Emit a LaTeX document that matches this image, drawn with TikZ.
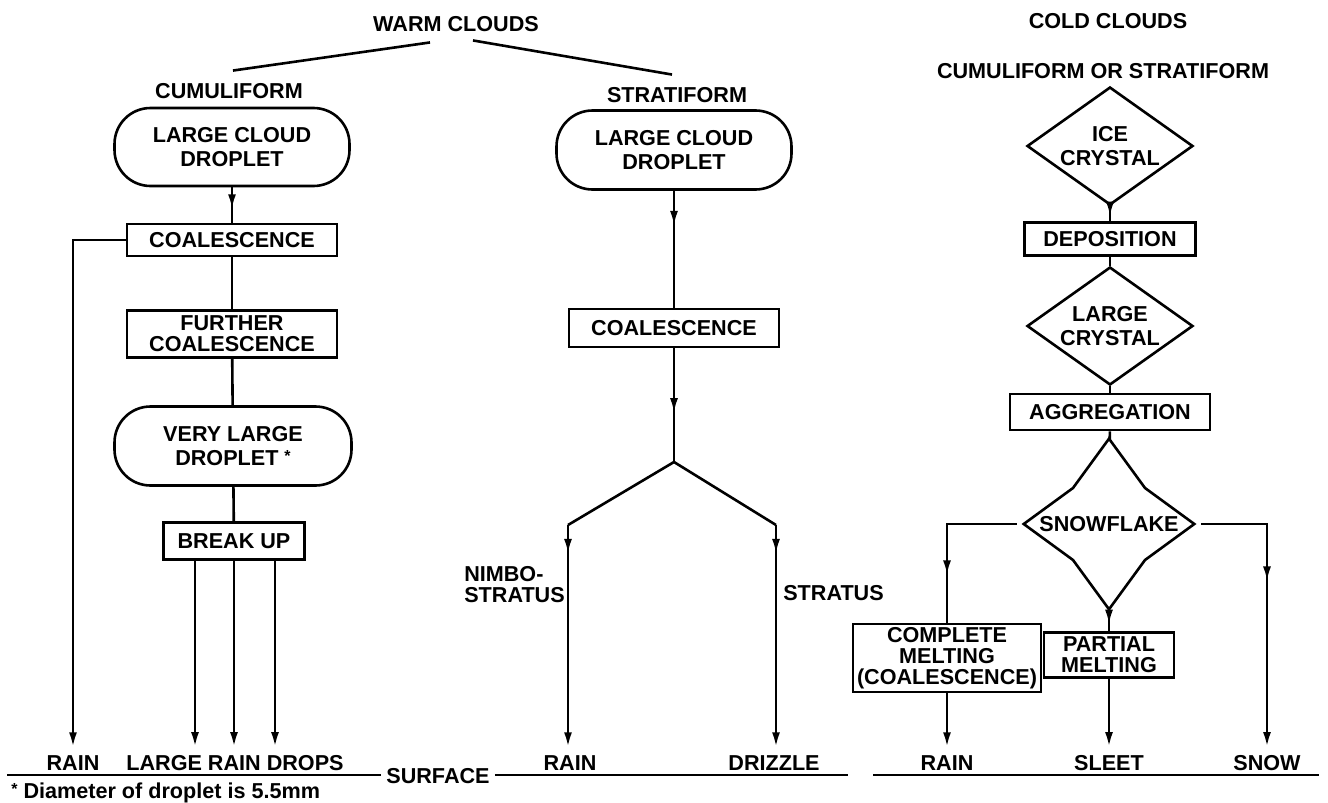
\documentclass[tikz,border=0pt]{standalone}
\usepackage{fontspec}
\setmainfont{Liberation Sans}
\usetikzlibrary{arrows.meta,decorations.markings,shapes.geometric,calc}
\tikzset{
  every node/.style={font=\bfseries\fontsize{10.8}{10.5}\selectfont, align=center, inner sep=0pt},
  box/.style={draw, rectangle},
  pill/.style={draw, rectangle, rounded corners=18pt, font=\bfseries\fontsize{10.8}{12.2}\selectfont},
  diam/.style={draw, diamond},
  dtext/.style={font=\bfseries\fontsize{10.8}{12.2}\selectfont},
  tip/.style={-{Latex[length=7.5pt,width=4pt]}},
  marr/.style={postaction={decorate}, decoration={markings, mark=at position #1 with {\arrow{Latex[length=7.5pt,width=4pt]}}}},
}
\begin{document}
\begin{tikzpicture}[x=0.5pt, y=-0.5pt, line width=1.3pt]
\useasboundingbox (0,0) rectangle (1328,803);

% ---------- warm clouds ----------
\node (warm) at (456,24) {WARM CLOUDS};
\node (cumu) at (229,91) {CUMULIFORM};
\node (strat) at (677,95) {STRATIFORM};
\draw ($(warm.south)+(-26,9.5)$) -- ($(cumu.north)+(4,-11.5)$);
\draw ($(warm.south)+(17,7.5)$) -- ($(strat.north)+(-5,-11.5)$);

% cumuliform column
\node[pill, minimum width=117.5pt, minimum height=39pt] (p1) at (232,147) {LARGE CLOUD\\DROPLET};
\node[box, minimum width=105pt, minimum height=16pt] (c1) at (232,240) {COALESCENCE};
\node[box, minimum width=105pt, minimum height=23.5pt] (f1) at (232,334) {FURTHER\\COALESCENCE};
\node[pill, minimum width=118.5pt, minimum height=39.5pt] (p2) at (233,446) {VERY LARGE\\DROPLET\ \raisebox{0.35ex}{\fontsize{8}{8}\selectfont *}};
\node[box, minimum width=70.5pt, minimum height=18.5pt] (b1) at (234,541) {BREAK UP};
\node (rain1) at (73,763) {RAIN};
\node (lrd) at (235,763) {LARGE RAIN DROPS};

\draw[marr=0.62] (p1) -- (c1);
\draw (c1) -- (f1);
\draw (f1) -- (p2);
\draw (p2) -- (b1);
\draw[tip] (c1.west) -| ($(rain1.north)+(0,-7)$);
\draw[tip] ($(b1.south)+(-39,0)$) -- ($(lrd.north)+(-40,-7)$);
\draw[tip] (b1.south) -- ($(lrd.north)+(-1,-7)$);
\draw[tip] ($(b1.south)+(41,0)$) -- ($(lrd.north)+(40,-7)$);

% stratiform column
\node[pill, minimum width=117.5pt, minimum height=39.5pt] (p3) at (674,150) {LARGE CLOUD\\DROPLET};
\node[box, minimum width=105pt, minimum height=19pt] (c2) at (674,328) {COALESCENCE};
\coordinate (j) at (674,462);
\coordinate (bl) at (568,525);
\coordinate (br) at (776,525);
\node (rain2) at (570,763) {RAIN};
\node (drz) at (774,763) {DRIZZLE};
\node[anchor=west, align=left] (nimbo) at (463,585) {NIMBO-\\STRATUS};
\node[anchor=west] (stra) at (782,593) {STRATUS};

\draw[marr=0.3] (p3) -- (c2);
\draw[marr=0.57] (c2) -- (j);
\draw (j) -- (bl);
\draw (j) -- (br);
\draw[tip, marr=0.13] (bl) -- ($(bl |- rain2.north)+(0,-7)$);
\draw[tip, marr=0.13] (br) -- ($(br |- drz.north)+(0,-7)$);

% surface
\node (surf) at (438,776) {SURFACE};
\coordinate (s1) at (7,775);
\coordinate (s2) at (848,775);
\coordinate (s3) at (873,775);
\coordinate (s4) at (1319,775);
\draw (s1) -- ($(surf.west)+(-4,-1)$);
\draw ($(surf.east)+(4,-1)$) -- (s2);
\draw (s3) -- (s4);
\node[anchor=west] (fn) at (10,793) {\raisebox{0.35ex}{\fontsize{8}{8}\selectfont *}\ Diameter of droplet is 5.5mm};

% ---------- cold clouds ----------
\node (cold) at (1108,21) {COLD CLOUDS};
\node (cos) at (1103,71) {CUMULIFORM OR STRATIFORM};
\node[diam, minimum width=83pt, minimum height=59pt] (ice) at (1110,146) {};
\node[dtext] (icet) at (ice) {ICE\\CRYSTAL};
\node[box, minimum width=85.5pt, minimum height=16.5pt] (dep) at (1110,239) {DEPOSITION};
\node[diam, minimum width=83pt, minimum height=59pt] (lc) at (1110,326) {};
\node[dtext] (lct) at (lc) {LARGE\\CRYSTAL};
\node[box, minimum width=100pt, minimum height=18pt] (agg) at (1110,412) {AGGREGATION};
\node[diamond, minimum width=84pt, minimum height=84pt] (snow) at (1109,524) {};
\node (snowt) at (snow) {SNOWFLAKE};
\draw (snow.north) -- ($(snow)+(-36,-36)$) -- (snow.west) -- ($(snow)+(-36,36)$)
      -- (snow.south) -- ($(snow)+(36,36)$) -- (snow.east) -- ($(snow)+(36,-36)$) -- cycle;
\node[box, minimum width=65pt, minimum height=22.5pt] (pm) at (1109,655) {PARTIAL\\MELTING};
\node[box, minimum width=94pt, minimum height=34pt] (cm) at (947,658) {COMPLETE\\MELTING\\(COALESCENCE)};
\node (rain3) at (947,763) {RAIN};
\node (sleet) at (1109,763) {SLEET};
\node (snowl) at (1267,763) {SNOW};

\draw[marr=0.7] (ice) -- (dep);
\draw (dep) -- (lc);
\draw (lc) -- (agg);
\draw (agg) -- (snow);
\draw[marr=0.7] (snow) -- (pm);
\draw[marr=0.73, shorten <=3.5pt] (snow.west) -| (cm.north);
\draw[tip, marr=0.44, shorten <=3.5pt] (snow.east) -| ($(snowl.north)+(0,-7)$);
\draw[tip] (cm) -- ($(rain3.north)+(0,-7)$);
\draw[tip] (pm) -- ($(sleet.north)+(0,-7)$);
\end{tikzpicture}
\end{document}
